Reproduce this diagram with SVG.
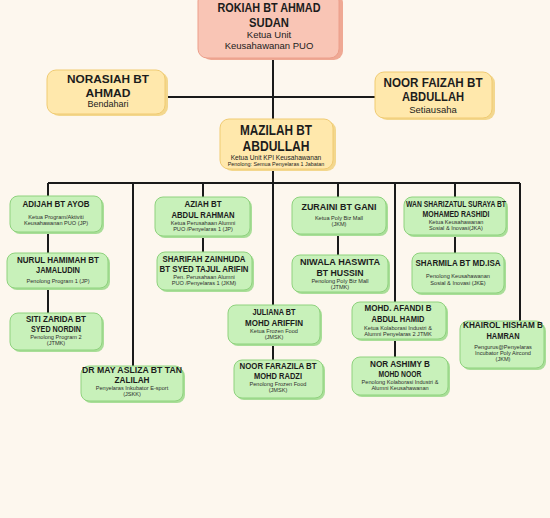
<svg xmlns="http://www.w3.org/2000/svg" width="550" height="518" viewBox="0 0 550 518">
<style>
.bg{fill:#FDF7EE}
.ln{stroke:#1a1a1a;stroke-width:2;fill:none}
.gs{fill:#A9DE98}
.g{fill:#C8F1BA;stroke:#8FD27E;stroke-width:1}
.ys{fill:#F3D78E}
.y{fill:#FFE8AC;stroke:#F0CB72;stroke-width:1}
.ps{fill:#EFA994}
.p{fill:#F9C5B5;stroke:#EC9E8A;stroke-width:1}
text{font-family:"Liberation Sans",Arial,sans-serif;text-anchor:middle;fill:#1c1c1c}
.n{font-weight:bold;font-size:8.5px}
.s{font-size:5.6px;fill:#2e2e2e}
.bn{font-weight:bold}
</style>
<rect class="bg" x="0" y="0" width="550" height="518"/>
<g id="connectors">
<line class="ln" x1="273" y1="58" x2="273" y2="119"/>
<line class="ln" x1="165" y1="97" x2="375" y2="97"/>
<line class="ln" x1="273" y1="169" x2="273" y2="305"/>
<line class="ln" x1="48" y1="183" x2="520" y2="183"/>
<line class="ln" x1="48" y1="183" x2="48" y2="196"/>
<line class="ln" x1="48" y1="232" x2="48" y2="253"/>
<line class="ln" x1="48" y1="288" x2="48" y2="313"/>
<line class="ln" x1="133" y1="183" x2="133" y2="366"/>
<line class="ln" x1="203" y1="183" x2="203" y2="197"/>
<line class="ln" x1="203" y1="236" x2="203" y2="252"/>
<line class="ln" x1="273" y1="344" x2="273" y2="360"/>
<line class="ln" x1="338" y1="183" x2="338" y2="197"/>
<line class="ln" x1="338" y1="234" x2="338" y2="255"/>
<line class="ln" x1="395" y1="183" x2="395" y2="302"/>
<line class="ln" x1="395" y1="339" x2="395" y2="357"/>
<line class="ln" x1="455" y1="183" x2="455" y2="197"/>
<line class="ln" x1="455" y1="235" x2="455" y2="253"/>
<line class="ln" x1="520" y1="183" x2="520" y2="321"/>
</g>
<g id="rokiah">
<rect class="ps" x="202" y="-6" width="141" height="66" rx="9"/>
<rect class="p" x="198" y="-8" width="141" height="66" rx="9"/>
<text class="bn" x="269" y="12" font-size="12.5" textLength="103" lengthAdjust="spacingAndGlyphs">ROKIAH BT AHMAD</text>
<text class="bn" x="269" y="27" font-size="12.5" textLength="40" lengthAdjust="spacingAndGlyphs">SUDAN</text>
<text x="269" y="38" font-size="9.5">Ketua Unit</text>
<text x="269" y="49" font-size="9.5">Keusahawanan PUO</text>
</g>
<g id="norasiah">
<rect class="ys" x="50" y="72" width="118" height="44" rx="9"/>
<rect class="y" x="47" y="70" width="118" height="44" rx="9"/>
<text class="bn" x="108" y="83" font-size="11.5" textLength="82" lengthAdjust="spacingAndGlyphs">NORASIAH BT</text>
<text class="bn" x="108" y="97" font-size="11.5" textLength="45" lengthAdjust="spacingAndGlyphs">AHMAD</text>
<text x="108" y="107" font-size="9">Bendahari</text>
</g>
<g id="noorfaizah">
<rect class="ys" x="378" y="74" width="117" height="46" rx="9"/>
<rect class="y" x="375" y="72" width="117" height="46" rx="9"/>
<text class="bn" x="433" y="87" font-size="12" textLength="99" lengthAdjust="spacingAndGlyphs">NOOR FAIZAH BT</text>
<text class="bn" x="433" y="101" font-size="12" textLength="62" lengthAdjust="spacingAndGlyphs">ABDULLAH</text>
<text x="433" y="113" font-size="9.5">Setiausaha</text>
</g>
<g id="mazilah">
<rect class="ys" x="223" y="121" width="113" height="50" rx="9"/>
<rect class="y" x="220" y="119" width="113" height="50" rx="9"/>
<text class="bn" x="276" y="135" font-size="14.5" textLength="72" lengthAdjust="spacingAndGlyphs">MAZILAH BT</text>
<text class="bn" x="276" y="151" font-size="14.5" textLength="67" lengthAdjust="spacingAndGlyphs">ABDULLAH</text>
<text x="276" y="159.5" font-size="6.6">Ketua Unit KPI Keusahawanan</text>
<text x="276" y="166" font-size="5.4">Penolong: Semua Penyelaras 1 Jabatan</text>
</g>
<g id="adijah">
<rect class="gs" x="12" y="198" width="92" height="36" rx="8"/>
<rect class="g" x="10" y="196" width="92" height="36" rx="8"/>
<text class="n" x="56" y="207" textLength="67" lengthAdjust="spacingAndGlyphs">ADIJAH BT AYOB</text>
<text class="s" x="56" y="219">Ketua Program/Aktiviti</text>
<text class="s" x="56" y="225">Keusahawanan PUO (JP)</text>
</g>
<g id="nurul">
<rect class="gs" x="9" y="255" width="101" height="35" rx="8"/>
<rect class="g" x="7" y="253" width="101" height="35" rx="8"/>
<text class="n" x="58" y="263" textLength="82" lengthAdjust="spacingAndGlyphs">NURUL HAMIMAH BT</text>
<text class="n" x="58" y="273" textLength="44" lengthAdjust="spacingAndGlyphs">JAMALUDIN</text>
<text class="s" x="58" y="283">Penolong Program 1 (JP)</text>
</g>
<g id="siti">
<rect class="gs" x="12" y="315" width="92" height="37" rx="8"/>
<rect class="g" x="10" y="313" width="92" height="37" rx="8"/>
<text class="n" x="56" y="322" textLength="60" lengthAdjust="spacingAndGlyphs">SITI ZARIDA BT</text>
<text class="n" x="56" y="332" textLength="50" lengthAdjust="spacingAndGlyphs">SYED NORDIN</text>
<text class="s" x="56" y="339">Penolong Program 2</text>
<text class="s" x="56" y="345">(JTMK)</text>
</g>
<g id="drmay">
<rect class="gs" x="83" y="368" width="102" height="35" rx="8"/>
<rect class="g" x="81" y="366" width="102" height="35" rx="8"/>
<text class="n" x="132" y="373" textLength="100" lengthAdjust="spacingAndGlyphs">DR MAY ASLIZA BT TAN</text>
<text class="n" x="132" y="383" textLength="35" lengthAdjust="spacingAndGlyphs">ZALILAH</text>
<text class="s" x="132" y="390">Penyelaras Inkubator E-sport</text>
<text class="s" x="132" y="396">(JSKK)</text>
</g>
<g id="aziah">
<rect class="gs" x="157" y="199" width="95" height="39" rx="8"/>
<rect class="g" x="155" y="197" width="95" height="39" rx="8"/>
<text class="n" x="203" y="207" textLength="37" lengthAdjust="spacingAndGlyphs">AZIAH BT</text>
<text class="n" x="203" y="218" textLength="63" lengthAdjust="spacingAndGlyphs">ABDUL RAHMAN</text>
<text class="s" x="203" y="225">Ketua Perusahaan Alumni</text>
<text class="s" x="203" y="231">PUO /Penyelaras 1 (JP)</text>
</g>
<g id="sharifah">
<rect class="gs" x="159" y="254" width="95" height="38" rx="8"/>
<rect class="g" x="157" y="252" width="95" height="38" rx="8"/>
<text class="n" x="204" y="262" textLength="83" lengthAdjust="spacingAndGlyphs">SHARIFAH ZAINHUDA</text>
<text class="n" x="204" y="272" textLength="89" lengthAdjust="spacingAndGlyphs">BT SYED TAJUL ARIFIN</text>
<text class="s" x="204" y="279">Pen. Perusahaan Alumni</text>
<text class="s" x="204" y="285">PUO /Penyelaras 1 (JKM)</text>
</g>
<g id="zuraini">
<rect class="gs" x="294" y="199" width="94" height="37" rx="8"/>
<rect class="g" x="292" y="197" width="94" height="37" rx="8"/>
<text class="n" x="339" y="210" textLength="75" lengthAdjust="spacingAndGlyphs">ZURAINI BT GANI</text>
<text class="s" x="339" y="220">Ketua Poly Biz Mall</text>
<text class="s" x="339" y="226">(JKM)</text>
</g>
<g id="niwala">
<rect class="gs" x="294" y="257" width="96" height="37" rx="8"/>
<rect class="g" x="292" y="255" width="96" height="37" rx="8"/>
<text class="n" x="340" y="265" textLength="80" lengthAdjust="spacingAndGlyphs">NIWALA HASWITA</text>
<text class="n" x="340" y="276" textLength="47" lengthAdjust="spacingAndGlyphs">BT HUSSIN</text>
<text class="s" x="340" y="283">Penolong Poly Biz Mall</text>
<text class="s" x="340" y="289">(JTMK)</text>
</g>
<g id="juliana">
<rect class="gs" x="230" y="307" width="92" height="39" rx="8"/>
<rect class="g" x="228" y="305" width="92" height="39" rx="8"/>
<text class="n" x="274" y="315" textLength="43" lengthAdjust="spacingAndGlyphs">JULIANA BT</text>
<text class="n" x="274" y="326" textLength="58" lengthAdjust="spacingAndGlyphs">MOHD ARIFFIN</text>
<text class="s" x="274" y="333">Ketua Frozen Food</text>
<text class="s" x="274" y="339">(JMSK)</text>
</g>
<g id="noorfarazila">
<rect class="gs" x="236" y="362" width="89" height="38" rx="8"/>
<rect class="g" x="234" y="360" width="89" height="38" rx="8"/>
<text class="n" x="278" y="369" textLength="77" lengthAdjust="spacingAndGlyphs">NOOR FARAZILA BT</text>
<text class="n" x="278" y="379" textLength="48" lengthAdjust="spacingAndGlyphs">MOHD RADZI</text>
<text class="s" x="278" y="386">Penolong Frozen Food</text>
<text class="s" x="278" y="392">(JMSK)</text>
</g>
<g id="afandi">
<rect class="gs" x="354" y="304" width="94" height="37" rx="8"/>
<rect class="g" x="352" y="302" width="94" height="37" rx="8"/>
<text class="n" x="398" y="311" textLength="67" lengthAdjust="spacingAndGlyphs">MOHD. AFANDI B</text>
<text class="n" x="398" y="322" textLength="53" lengthAdjust="spacingAndGlyphs">ABDUL HAMID</text>
<text class="s" x="398" y="330">Ketua Kolaborasi Industri &amp;</text>
<text class="s" x="398" y="335.5">Alumni Penyelaras 2 JTMK</text>
</g>
<g id="norashimy">
<rect class="gs" x="354" y="359" width="96" height="38" rx="8"/>
<rect class="g" x="352" y="357" width="96" height="38" rx="8"/>
<text class="n" x="400" y="367" textLength="60" lengthAdjust="spacingAndGlyphs">NOR ASHIMY B</text>
<text class="n" x="400" y="377" textLength="43" lengthAdjust="spacingAndGlyphs">MOHD NOOR</text>
<text class="s" x="400" y="384">Penolong Kolaborasi Industri &amp;</text>
<text class="s" x="400" y="390">Alumni Keusahawanan</text>
</g>
<g id="wan">
<rect class="gs" x="406" y="199" width="102" height="38" rx="8"/>
<rect class="g" x="404" y="197" width="102" height="38" rx="8"/>
<text class="n" x="456" y="207" textLength="100" lengthAdjust="spacingAndGlyphs">WAN SHARIZATUL SURAYA BT</text>
<text class="n" x="456" y="216.5" textLength="67" lengthAdjust="spacingAndGlyphs">MOHAMED RASHIDI</text>
<text class="s" x="456" y="223.5">Ketua Keusahawanan</text>
<text class="s" x="456" y="229.5">Sosial &amp; Inovasi(JKA)</text>
</g>
<g id="sharmila">
<rect class="gs" x="414" y="255" width="92" height="40" rx="8"/>
<rect class="g" x="412" y="253" width="92" height="40" rx="8"/>
<text class="n" x="458" y="266" textLength="85" lengthAdjust="spacingAndGlyphs">SHARMILA BT MD.ISA</text>
<text class="s" x="458" y="278">Penolong Keusahawanan</text>
<text class="s" x="458" y="285">Sosial &amp; Inovasi (JKE)</text>
</g>
<g id="khairol">
<rect class="gs" x="462" y="323" width="84" height="47" rx="8"/>
<rect class="g" x="460" y="321" width="84" height="47" rx="8"/>
<text class="n" x="503" y="328" textLength="80" lengthAdjust="spacingAndGlyphs">KHAIROL HISHAM B</text>
<text class="n" x="503" y="339" textLength="33" lengthAdjust="spacingAndGlyphs">HAMRAN</text>
<text class="s" x="503" y="349">Pengurus@Penyelaras</text>
<text class="s" x="503" y="355">Incubator Poly Aircond</text>
<text class="s" x="503" y="361">(JKM)</text>
</g>
</svg>
